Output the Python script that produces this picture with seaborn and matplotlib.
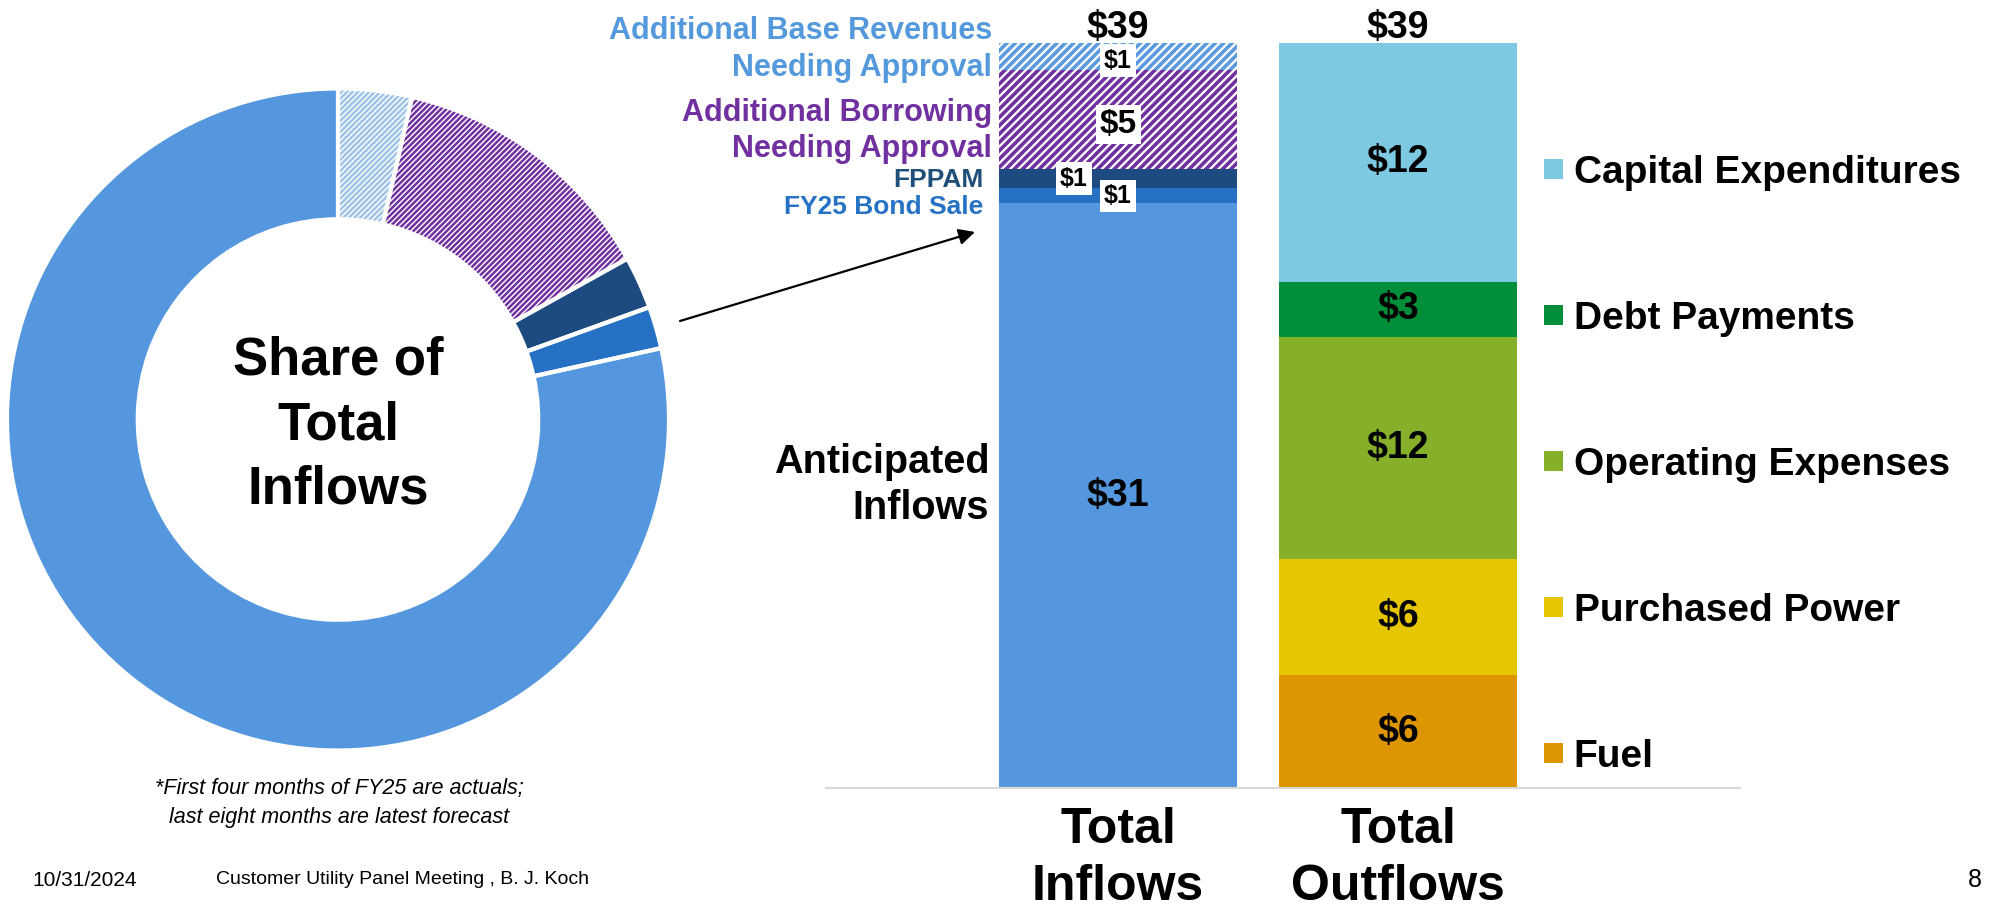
import matplotlib
matplotlib.use("Agg")
import matplotlib.pyplot as plt
from matplotlib import font_manager as fm
from matplotlib.patches import Patch
import pandas as pd
import seaborn as sns

# FY25 sources and uses, $ millions
categories = ["Total\nInflows", "Total\nOutflows"]

inflow_names = ["Anticipated\nInflows", "FY25 Bond Sale", "FPPAM",
                "Additional Borrowing\nNeeding Approval",
                "Additional Base Revenues\nNeeding Approval"]
inflow_values = [30.6, 0.8, 1.0, 5.2, 1.4]
inflow_labels = ["$31", "$1", "$1", "$5", "$1"]

outflow_names = ["Fuel", "Purchased Power", "Operating Expenses",
                 "Debt Payments", "Capital Expenditures"]
outflow_values = [5.9, 6.1, 11.6, 2.9, 12.5]
outflow_labels = ["$6", "$6", "$12", "$3", "$12"]

total_labels = ["$39", "$39"]

# styling
inflow_colors = ["#5597DE", "#2671C4", "#1D4B80", "#7030A0", "#5A9BE0"]
inflow_hatch = [None, None, None, "////", "////"]
donut_colors = ["#5597DE", "#2671C4", "#1D4B80", "#7030A0", "#9DC3E6"]
outflow_colors = ["#DD9502", "#E5C600", "#86B02A", "#008E3A", "#7EC9E2"]
inflow_text_colors = ["black", "#2672C5", "#1F4E79", "#7030A0", "#5599DD"]


def font_ok(name):
    try:
        fm.findfont(fm.FontProperties(family=name), fallback_to_default=False)
        return True
    except ValueError:
        return False


HAS_NARROW = font_ok("Liberation Sans Narrow")
NARROW = "Liberation Sans Narrow" if HAS_NARROW else "Liberation Sans"

sns.set_style("white")
plt.rcParams["font.family"] = ["Liberation Sans", "DejaVu Sans"]
plt.rcParams["text.color"] = "black"
plt.rcParams["hatch.linewidth"] = 1.8

W, H = 1992, 917
fig = plt.figure(figsize=(W / 100, H / 100), dpi=100)


def fx(px):
    return px / W


def fy(py):
    return 1 - py / H


# ---- donut ----
axp = fig.add_axes([fx(7), fy(419.5 + 331), 662 / W, 662 / H])
pie_vals = inflow_values[::-1]
wedges, _ = axp.pie(pie_vals, colors=donut_colors[::-1], startangle=90,
                    counterclock=False, radius=1,
                    wedgeprops=dict(width=0.395, linewidth=0))
for w, c, h in zip(wedges, donut_colors[::-1], inflow_hatch[::-1]):
    if h:
        w.set_facecolor("white")
        w.set_edgecolor(c)
        w.set_hatch("//////")
axp.pie(pie_vals, colors=["none"] * len(pie_vals), startangle=90,
        counterclock=False, radius=1,
        wedgeprops=dict(width=0.395, edgecolor="white", linewidth=3))
axp.set_xlim(-1, 1)
axp.set_ylim(-1, 1)
axp.annotate("Share of\nTotal\nInflows", xy=(0, 0), xytext=(0, -4),
             textcoords="offset points", ha="center", va="center",
             fontsize=38, fontweight="bold", linespacing=1.38)

# ---- stacked bars ----
plt.rcParams["hatch.linewidth"] = 2.6
rows = []
for n, v, lab, c, h, tc in zip(inflow_names, inflow_values, inflow_labels,
                               inflow_colors, inflow_hatch, inflow_text_colors):
    rows.append((categories[0], n, v, lab, c, h, tc))
for n, v, lab, c in zip(outflow_names, outflow_values, outflow_labels, outflow_colors):
    rows.append((categories[1], n, v, lab, c, None, "black"))
df = pd.DataFrame(rows, columns=["flow", "name", "value", "label", "color", "hatch", "tcolor"])
df["top"] = df.groupby("flow")["value"].cumsum()
df["mid"] = df["top"] - df["value"] / 2

axb = fig.add_axes([fx(826), fy(788), (1740 - 826) / W, (788 - 43) / H])
axb.set_facecolor("none")
for _, r in df.sort_values("top", ascending=False).iterrows():
    sns.barplot(x=[r["flow"]], y=[r["top"]], order=categories, color=r["color"],
                saturation=1, width=0.85, errorbar=None, ax=axb)
    bar = axb.containers[-1].patches[0]
    bar.set_linewidth(0)
    if r["hatch"]:
        bar.set_facecolor("white")
        bar.set_edgecolor(r["color"])
        bar.set_hatch(r["hatch"])

axb.set_xlim(-1.043, 2.221)
axb.set_ylim(0, 39)
axb.set_xlabel("")
axb.set_ylabel("")
axb.set_yticks([])
axb.set_xticks([0, 1])
axb.set_xticklabels(categories, fontsize=36, fontweight="bold", linespacing=1.28,
                    color="black")
axb.tick_params(axis="x", length=0, pad=14, labelcolor="black")
sns.despine(ax=axb, left=True)
axb.spines["bottom"].set_color("#D9D9D9")
axb.spines["bottom"].set_linewidth(1.5)

# value labels: (font size, boxed, x offset in data units, y nudge in points)
label_style = {
    "Anticipated\nInflows": (27, False, 0.0, 0),
    "FY25 Bond Sale": (18, True, 0.0, 0),
    "FPPAM": (18, True, -0.157, 0),
    "Additional Borrowing\nNeeding Approval": (24, True, 0.0, -3.5),
    "Additional Base Revenues\nNeeding Approval": (18, True, 0.0, -3.0),
}
# side labels: (font size, right edge in data x, vertical nudge in points)
side_style = {
    "Anticipated\nInflows": (28.5, -0.46, 7.9),
    "FY25 Bond Sale": (19, -0.482, -8.0),
    "FPPAM": (19, -0.482, -1.2),
    "Additional Borrowing\nNeeding Approval": (22, -0.45, -8.3),
    "Additional Base Revenues\nNeeding Approval": (22, -0.45, 4.9),
}

for _, r in df.iterrows():
    xi = categories.index(r["flow"])
    size, boxed, dx, ldy = label_style.get(r["name"], (27, False, 0.0, 0))
    bbox = dict(facecolor="white", edgecolor="none", pad=3) if boxed else None
    axb.annotate(r["label"], xy=(xi + dx, r["mid"]), xytext=(0, ldy),
                 textcoords="offset points", ha="center", va="center",
                 fontsize=size, fontweight="bold", bbox=bbox)
    if xi == 0:
        s, xr, dy = side_style[r["name"]]
        axb.annotate(r["name"], xy=(xr, r["mid"]), xytext=(0, dy),
                     textcoords="offset points", ha="right", va="center",
                     fontsize=s, fontweight="bold", color=r["tcolor"],
                     linespacing=1.28, annotation_clip=False)

for xi, t in enumerate(total_labels):
    axb.annotate(t, xy=(xi, 39), xytext=(0, 3.6), textcoords="offset points",
                 ha="center", va="baseline", fontsize=27, fontweight="bold",
                 annotation_clip=False)

# legend for outflows, top to bottom
handles = [Patch(facecolor=c, edgecolor="none") for c in outflow_colors[::-1]]
fig.legend(handles, outflow_names[::-1], loc="upper left",
           bbox_to_anchor=(fx(1544), fy(155)), frameon=False,
           prop=dict(size=28, weight="bold"), handlelength=0.5,
           handleheight=0.41, handletextpad=0.26, labelspacing=2.83,
           borderpad=0, borderaxespad=0)

# arrow from donut to the inflows bar
axp.annotate("", xy=(975, H - 232), xycoords="figure pixels",
             xytext=(680, H - 321), textcoords="figure pixels",
             arrowprops=dict(arrowstyle="-|>", color="black", lw=1.6,
                             mutation_scale=24, shrinkA=0, shrinkB=0),
             annotation_clip=False)

# footnote and footer
note_size = 19 if HAS_NARROW else 15.5
fig.text(fx(339), fy(803), "*First four months of FY25 are actuals;\nlast eight months are latest forecast",
         ha="center", va="center", style="italic", fontsize=note_size,
         family=NARROW, linespacing=1.45)
foot_size = 18 if HAS_NARROW else 15
fig.text(fx(32), fy(880), "10/31/2024", ha="left", va="center",
         fontsize=foot_size, family=NARROW)
fig.text(fx(216), fy(880), "Customer Utility Panel Meeting , B. J. Koch", ha="left",
         va="center", fontsize=foot_size * 0.935, family=NARROW)
fig.text(fx(1982), fy(880), "8", ha="right", va="center", fontsize=18)

fig.savefig("out.png", dpi=100)
